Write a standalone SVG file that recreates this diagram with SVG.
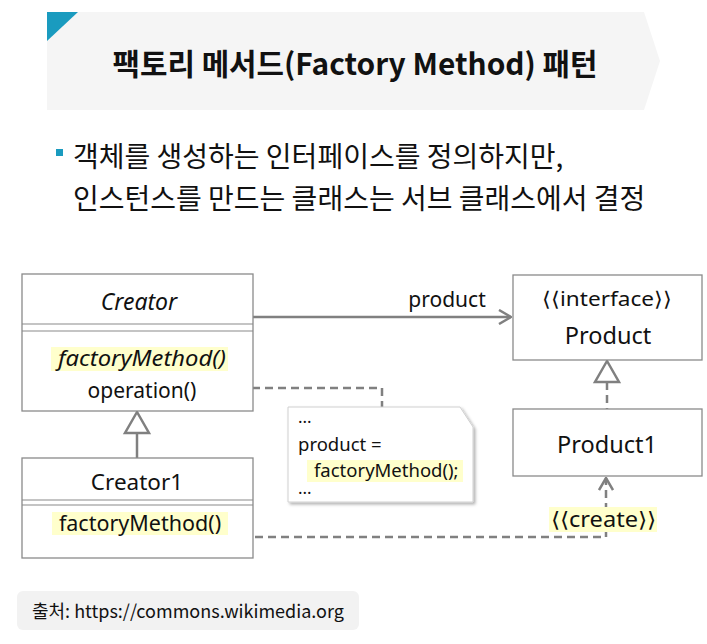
<svg xmlns="http://www.w3.org/2000/svg" width="707" height="644" viewBox="0 0 707 644">
  <style>
    .ko { font-family: "Noto Sans CJK KR", "Noto Sans", sans-serif; fill: #111; }
    .uml { font-family: "Noto Sans", "Liberation Sans", "Noto Sans CJK KR", sans-serif; fill: #111; }
    .box { fill: #ffffff; stroke: #8a8a8a; stroke-width: 1.3; }
    .sep { stroke: #8a8a8a; stroke-width: 1.2; fill: none; }
    .hl { fill: #ffffcc; }
    .solid { stroke: #808080; stroke-width: 2.5; fill: none; }
    .dash { stroke: #808080; stroke-width: 2.5; fill: none; stroke-dasharray: 8 5; }
  </style>
  <defs>
    <marker id="open" viewBox="0 0 14 16" refX="13" refY="8" markerWidth="14" markerHeight="16" markerUnits="userSpaceOnUse" orient="auto">
      <path d="M1,1 L13,8 L1,15" fill="none" stroke="#808080" stroke-width="2.5"/>
    </marker>
    <filter id="shadow" x="-10%" y="-10%" width="130%" height="130%">
      <feDropShadow dx="2" dy="2" stdDeviation="1.5" flood-color="#000" flood-opacity="0.3"/>
    </filter>
  </defs>

  <rect width="707" height="644" fill="#ffffff"/>

  <!-- title banner -->
  <g id="title">
    <polygon points="47,12 644,12 660,61 644,110 47,110" fill="#f5f5f5"/>
    <polygon points="47,12 78,12 47,41" fill="#1a9bbf"/>
    <text class="ko" x="355" y="75" font-size="30" font-weight="bold" text-anchor="middle" textLength="485" lengthAdjust="spacingAndGlyphs">팩토리 메서드(Factory Method) 패턴</text>
  </g>

  <!-- description -->
  <g id="description">
    <rect x="56" y="149" width="7" height="7" fill="#1a9bbf"/>
    <text class="ko" x="73" y="167" font-size="28">객체를 생성하는 인터페이스를 정의하지만,</text>
    <text class="ko" x="73" y="209" font-size="28">인스턴스를 만드는 클래스는 서브 클래스에서 결정</text>
  </g>

  <!-- connectors -->
  <g id="connectors">
    <line class="solid" x1="253" y1="317" x2="511" y2="317" marker-end="url(#open)"/>
    <text class="uml" x="447" y="307" font-size="21" text-anchor="middle">product</text>
    <polyline class="dash" points="200,388 382,388 382,407"/>
    <line class="solid" x1="137" y1="433" x2="137" y2="458"/>
    <polygon points="137,412 125,433 149,433" fill="#ffffff" stroke="#808080" stroke-width="2.5"/>
    <line class="dash" x1="607" y1="382" x2="607" y2="409"/>
    <polygon points="607,361 595,382 619,382" fill="#ffffff" stroke="#808080" stroke-width="2.5"/>
    <polyline class="dash" points="255,537 606,537 606,478" marker-end="url(#open)"/>
    <rect class="hl" x="549" y="507" width="108" height="25"/>
    <text class="uml" x="551" y="527" font-size="21" textLength="105" lengthAdjust="spacingAndGlyphs">⟨⟨create⟩⟩</text>
  </g>

  <!-- Creator -->
  <g id="creator">
    <rect class="box" x="22" y="274" width="231" height="137"/>
    <line class="sep" x1="22" y1="324" x2="253" y2="324"/>
    <line class="sep" x1="22" y1="331" x2="253" y2="331"/>
    <text class="uml" x="139" y="310" font-size="23" font-style="italic" text-anchor="middle">Creator</text>
    <rect class="hl" x="51" y="347" width="177" height="24"/>
    <text class="uml" x="58" y="366" font-size="22" font-style="italic" textLength="168" lengthAdjust="spacingAndGlyphs">factoryMethod()</text>
    <text class="uml" x="142" y="398" font-size="21" text-anchor="middle">operation()</text>
  </g>

  <!-- Creator1 -->
  <g id="creator1">
    <rect class="box" x="22" y="458" width="231" height="100"/>
    <line class="sep" x1="22" y1="500" x2="253" y2="500"/>
    <line class="sep" x1="22" y1="505" x2="253" y2="505"/>
    <text class="uml" x="137" y="490" font-size="22.5" text-anchor="middle">Creator1</text>
    <rect class="hl" x="52" y="512" width="176" height="23"/>
    <text class="uml" x="140" y="531" font-size="21.5" text-anchor="middle">factoryMethod()</text>
  </g>

  <!-- Product -->
  <g id="product">
    <rect class="box" x="513" y="275" width="189" height="85"/>
    <text class="uml" x="542" y="306" font-size="20" textLength="130" lengthAdjust="spacingAndGlyphs">⟨⟨interface⟩⟩</text>
    <text class="uml" x="608" y="344" font-size="23.5" text-anchor="middle">Product</text>
  </g>

  <!-- Product1 -->
  <g id="product1">
    <rect class="box" x="513" y="409" width="189" height="67"/>
    <text class="uml" x="607" y="453" font-size="23.5" text-anchor="middle">Product1</text>
  </g>

  <!-- code note -->
  <g id="note">
    <path d="M288,407 L460,407 L473,427 L473,502 L288,502 Z" fill="#ffffff" stroke="#d0d0d0" stroke-width="1" filter="url(#shadow)"/>
    <text class="uml" x="298" y="423" font-size="17">...</text>
    <text class="uml" x="298" y="451" font-size="18.5">product =</text>
    <rect class="hl" x="307" y="460" width="156" height="22"/>
    <text class="uml" x="314" y="477" font-size="18.5">factoryMethod();</text>
    <text class="uml" x="298" y="494" font-size="17">...</text>
  </g>

  <!-- source credit -->
  <g id="credit">
    <rect x="17" y="591" width="342" height="39" rx="6" fill="#f2f2f2"/>
    <text class="ko" x="32" y="618" font-size="18">출처: https://commons.wikimedia.org</text>
  </g>
</svg>
